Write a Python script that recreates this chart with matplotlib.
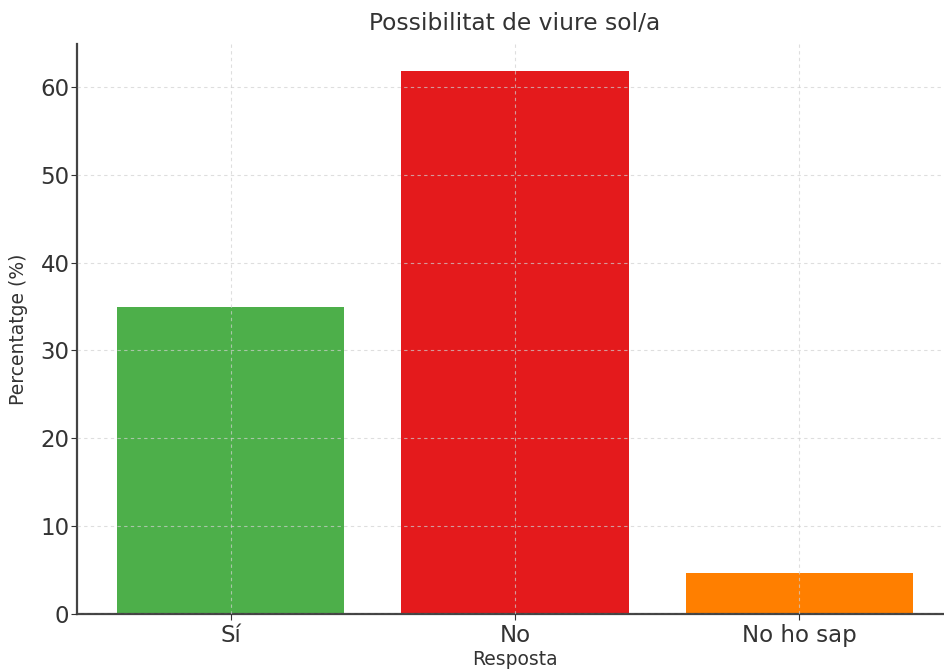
import matplotlib
matplotlib.use("Agg")
import matplotlib.pyplot as plt

categories = ["Sí", "No", "No ho sap"]
values = [34.9, 61.8, 4.7]
colors = ["#4daf4a", "#e41a1c", "#ff7f00"]

fig = plt.figure(figsize=(9.45, 6.72), dpi=100)
ax = fig.add_axes([0.0815, 0.0863, 0.927, 0.8482])
ax.bar(categories, values, color=colors, width=0.8, zorder=2)
ax.grid(True, linestyle=(0, (3, 3)), color="#d0d0d0", linewidth=0.8, alpha=0.7, zorder=3)
ax.set_axisbelow(False)
for s in ["top", "right"]:
    ax.spines[s].set_visible(False)
for s in ["left", "bottom"]:
    ax.spines[s].set_color("#444444")
    ax.spines[s].set_linewidth(1.6)
ax.tick_params(axis="both", labelsize=16.5, colors="#333333", length=4, pad=3)
ax.tick_params(axis="y", pad=1.5)
ax.set_title("Possibilitat de viure sol/a", fontsize=16.8, color="#333333", pad=10)
ax.set_xlabel("Resposta", fontsize=13.5, color="#333333", labelpad=2)
ax.set_ylabel("Percentatge (%)", fontsize=13.5, color="#333333", labelpad=9)
fig.savefig("out.png", dpi=100)
